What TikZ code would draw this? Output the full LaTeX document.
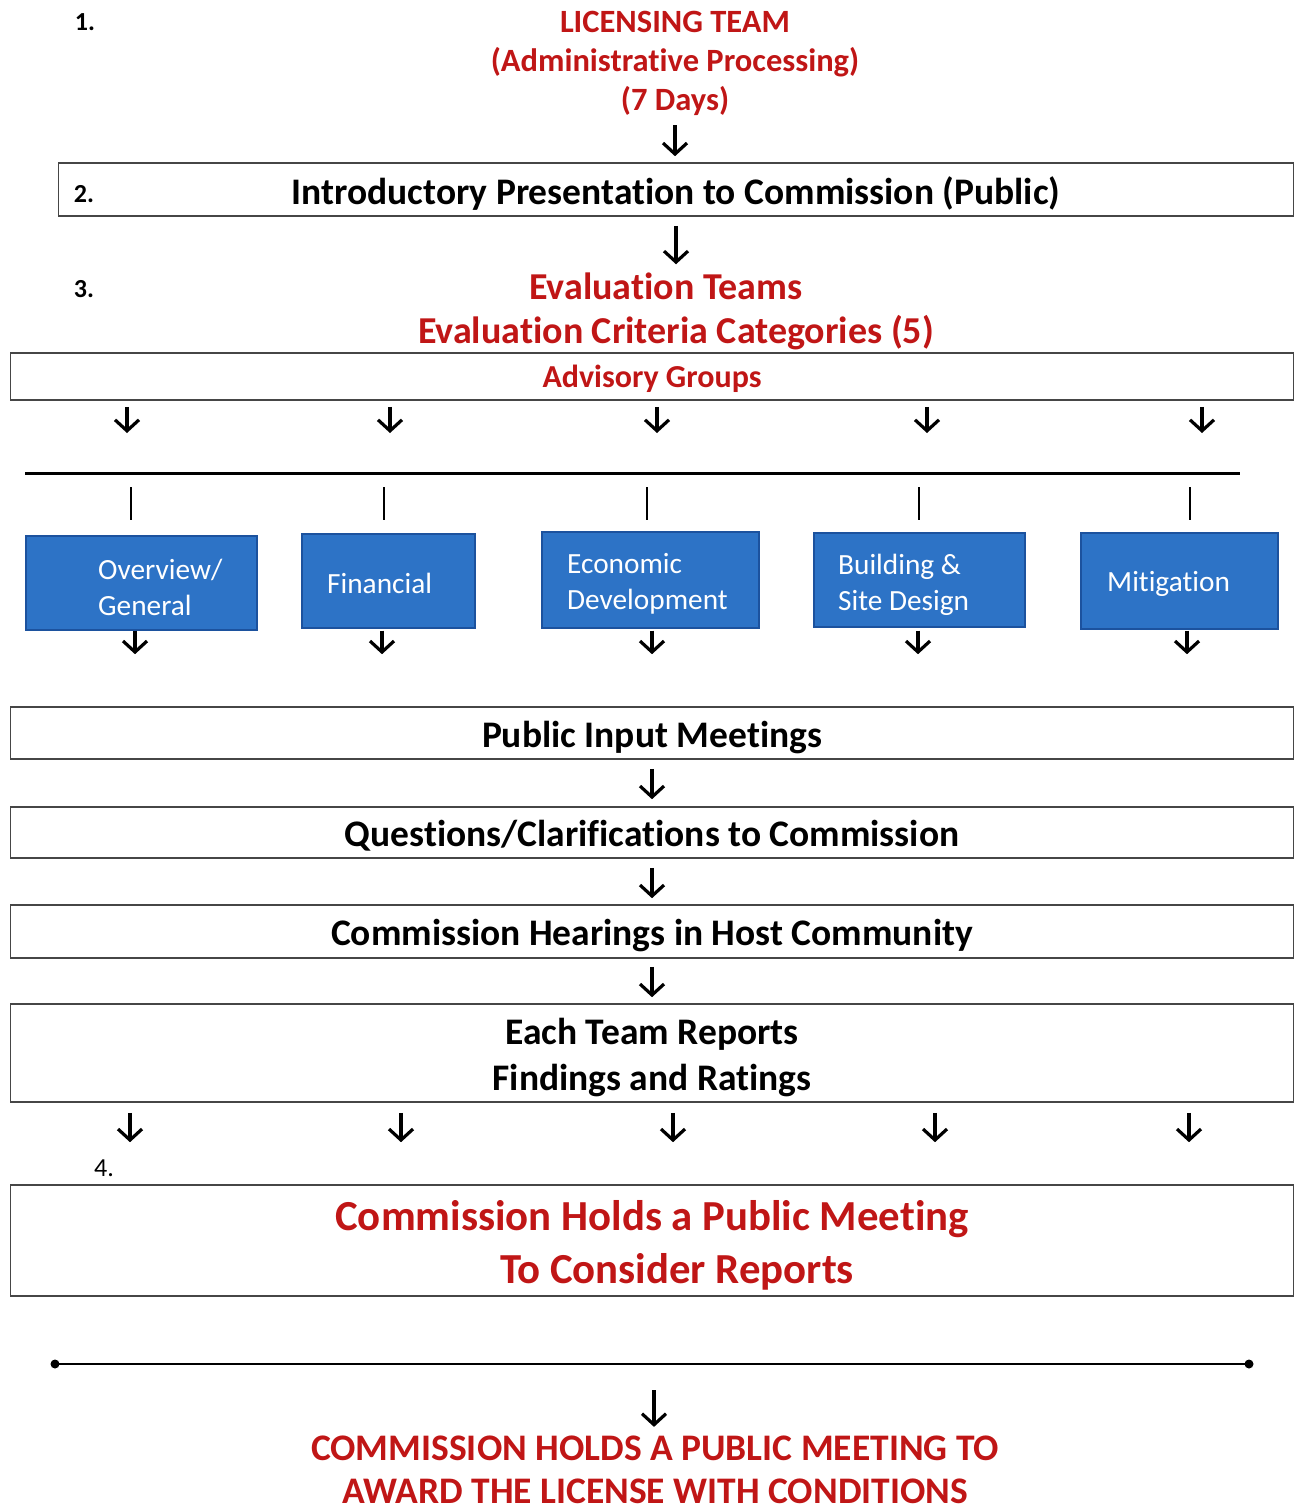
\documentclass[tikz,border=0pt]{standalone}
\usepackage{fontspec}
\setmainfont{Carlito}[Ligatures=NoCommon]
\usetikzlibrary{arrows.meta}

\definecolor{leadred}{RGB}{192,22,22}
\definecolor{groupblue}{RGB}{45,115,198}
\definecolor{groupedge}{RGB}{28,82,158}
\definecolor{boxgray}{RGB}{70,70,70}

\newcommand{\fs}[2]{\fontsize{#1}{#2}\selectfont}
% taller first line, pushes the text a bit lower in its box
\newcommand{\padtop}[1]{\rule{0pt}{#1}}

\begin{document}
\begin{tikzpicture}[x=1pt, y=-1pt,
    stage/.style={draw=boxgray, line width=1.6, minimum width=1283, inner sep=0,
        align=center, font=\bfseries\fs{37.5}{46}},
    redtitle/.style={text=leadred, font=\bfseries\fs{32.5}{39}, align=center, inner sep=0},
    stepnum/.style={font=\bfseries\fs{26}{26}, inner sep=0},
    groupbox/.style={draw=groupedge, fill=groupblue, line width=1.2, inner sep=0,
        minimum height=94},
    grouptext/.style={text=white, font=\fs{29.3}{36}, align=left, inner sep=0, anchor=west},
    arr/.style={-{Straight Barb[length=11pt, width=24pt]}, line width=3.2},
    tick/.style={line width=2.4},
  ]
\useasboundingbox (0,0) rectangle (1294,1510);

% 1. licensing team
\node[stepnum] (n1) at (85,22) {1.};
\node[redtitle] (lic) at (675,63) {LICENSING TEAM\\(Administrative Processing)\\(7 Days)};

% 2. introduction
\node[stage, minimum width=1235, minimum height=53] (intro) at (676,189.5)
    {\padtop{35pt}Introductory Presentation to Commission (Public)};
\node[stepnum] (n2) at (84,194) {2.};
\draw[arr, shorten <=10, shorten >=6] (lic.south) -- (lic.south |- intro.north);

% 3. evaluation teams
\node[stepnum] (n3) at (84,289) {3.};
\node[redtitle, font=\bfseries\fs{38}{44}] (evalhead) at (676,311)
    {\hspace*{-20pt}Evaluation Teams\\Evaluation Criteria Categories (5)};
\draw[arr, shorten <=9, shorten >=8] (intro.south) -- (intro.south |- evalhead.north);
\node[stage, minimum height=47, text=leadred, font=\bfseries\fs{32}{32}] (advisory)
    at (652,376.5) {\padtop{27pt}Advisory Groups};

\coordinate (barL) at (25,473);
\coordinate (barR) at (1240,473);
\draw[line width=3] (barL) -- (barR);
\foreach \x in {127,390,657,927,1202}
  \draw[arr, shorten <=6, shorten >=40] (\x,0 |- advisory.south) -- (\x,0 |- barL);

% advisory groups
\node[groupbox, minimum width=231] (overview) at (141.5,583) {};
\node[groupbox, minimum width=173] (financial) at (388.5,581) {};
\node[groupbox, minimum width=217, minimum height=96] (econ) at (650.5,580) {};
\node[groupbox, minimum width=211] (building) at (919.5,580) {};
\node[groupbox, minimum width=197, minimum height=96] (mitig) at (1179.5,581) {};
\node[grouptext] (overviewtxt) at (98,587) {Overview/\\General};
\node[grouptext] (financialtxt) at (327,583) {Financial};
\node[grouptext] (econtxt) at (567,584) {Economic\\Development};
\node[grouptext] (buildingtxt) at (838,585) {Building \&\\Site Design};
\node[grouptext] (mitigtxt) at (1107,584) {Mitigation};

\foreach \x in {131,384,647,919,1190}
  \draw[tick, shorten <=14, shorten >=15] (\x,0 |- barL) -- (\x,0 |- overview.north);

% public stages
\node[stage, minimum height=52] (publicinput) at (652,733)
    {\padtop{35pt}Public Input Meetings};
\node[stage, minimum height=51] (questions) at (652,832.5)
    {\padtop{33pt}Questions/Clarifications to Commission};
\node[stage, minimum height=53] (hearings) at (652,931.5)
    {\padtop{35pt}Commission Hearings in Host Community};
\node[stage, minimum height=98] (reports) at (652,1053)
    {\padtop{35pt}Each Team Reports\\Findings and Ratings};

\foreach \x in {135,382,652,918,1187}
  \draw[arr, shorten >=52] (\x,0 |- overview.south) -- (\x,0 |- publicinput.north);
\draw[arr, shorten <=9, shorten >=7] (publicinput) -- (questions);
\draw[arr, shorten <=9, shorten >=6] (questions) -- (hearings);
\draw[arr, shorten <=8, shorten >=6] (hearings) -- (reports);

% 4. commission meeting
\node[stepnum, font=\fs{26}{26}] (n4) at (104,1168) {4.};
\node[stage, minimum height=111, text=leadred, font=\bfseries\fs{42.8}{53}] (meeting)
    at (652,1240.5)
    {\padtop{40pt}Commission Holds a Public Meeting\\\hspace*{50pt}To Consider Reports};
\foreach \x in {130,401,673,935,1189}
  \draw[arr, shorten <=10, shorten >=42] (\x,0 |- reports.south) -- (\x,0 |- meeting.north);

\coordinate (lineL) at (55,1364);
\coordinate (lineR) at (1249,1364);
\draw[line width=2.4] (lineL) -- (lineR);
\fill (lineL) circle (4.5);
\fill (lineR) circle (4.5);

\node[redtitle, font=\bfseries\fs{37.5}{43}] (award) at (655,1470)
    {COMMISSION HOLDS A PUBLIC MEETING TO\\AWARD THE LICENSE WITH CONDITIONS};
\draw[arr, shorten <=26, shorten >=9] (654,0 |- lineL) -- (654,0 |- award.north);

\end{tikzpicture}
\end{document}
